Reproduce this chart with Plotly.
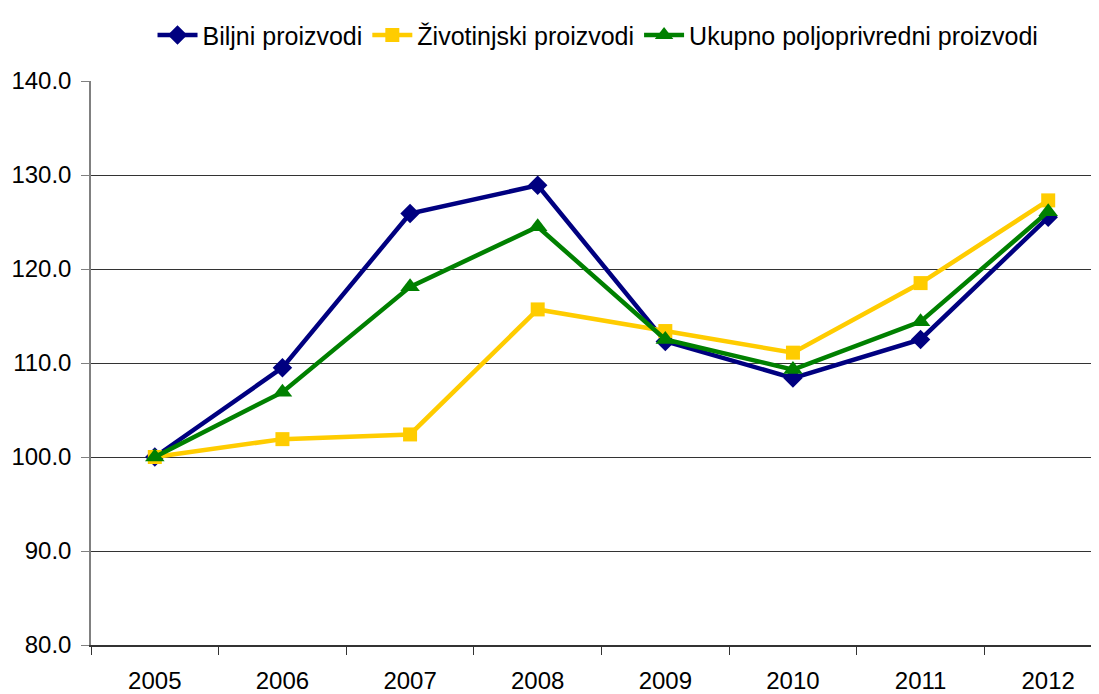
import plotly.graph_objects as go

years = ["2005", "2006", "2007", "2008", "2009", "2010", "2011", "2012"]
biljni = [100.0, 109.5, 125.9, 128.9, 112.3, 108.4, 112.5, 125.5]
zivotinjski = [100.0, 101.9, 102.4, 115.7, 113.4, 111.1, 118.5, 127.3]
ukupno = [100.0, 106.9, 118.1, 124.5, 112.5, 109.3, 114.4, 126.1]
y_ticks = [80, 90, 100, 110, 120, 130, 140]

names = ["Biljni proizvodi", "Životinjski proizvodi", "Ukupno poljoprivredni proizvodi"]
colors = ["#000080", "#FFCC00", "#008000"]
symbols = ["diamond", "square", "triangle-up"]
sizes = [15, 14, 17]

fig = go.Figure()
for name, vals, col, sym, sz in zip(names, [biljni, zivotinjski, ukupno], colors, symbols, sizes):
    fig.add_trace(go.Scatter(
        x=years, y=vals, name=name, mode="lines+markers",
        line=dict(color=col, width=4.5),
        marker=dict(symbol=sym, size=sz, color=col),
    ))

fig.update_layout(
    width=1091, height=686,
    margin=dict(l=83, r=0, t=73, b=47),
    paper_bgcolor="white", plot_bgcolor="white",
    font=dict(family="Liberation Sans, Arial, sans-serif", size=24, color="black"),
    showlegend=True,
    legend=dict(orientation="h", x=0.503, xanchor="center", xref="paper",
                y=1.122, yanchor="top", yref="paper",
                font=dict(size=25), itemwidth=40, tracegroupgap=0,
                bgcolor="rgba(0,0,0,0)"),
)
fig.update_xaxes(
    type="category", range=[-0.5, 7.398],
    tickson="boundaries", ticks="outside", ticklen=8, tickcolor="#333333",
    showline=True, linecolor="#333333", linewidth=1.5,
    showgrid=False, ticklabelstandoff=13,
)
fig.update_yaxes(
    range=[80, 140], tickvals=y_ticks, tickformat=".1f",
    ticks="outside", ticklen=8, tickcolor="#808080",
    showline=True, linecolor="#808080", linewidth=1.5,
    showgrid=True, gridcolor="#333333", gridwidth=1.2,
    ticklabelstandoff=5, zeroline=False,
)
fig.write_html("out.html")
